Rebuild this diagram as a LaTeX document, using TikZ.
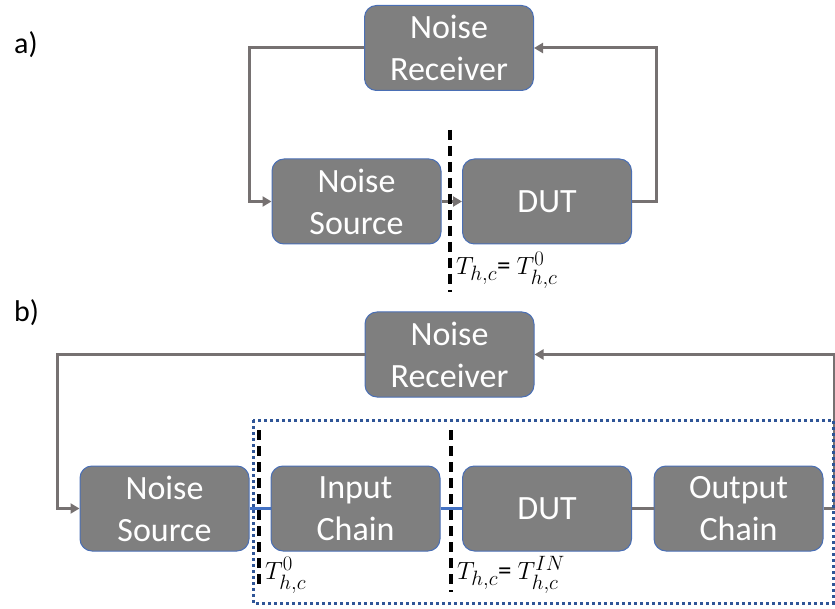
\documentclass[tikz,border=0pt]{standalone}
\usepackage{amsmath, amssymb}
\usepackage{fontspec}
\setmainfont{Carlito}
\DeclareMathSizes{27}{27}{21}{16}
\usepackage{tikz}
\usetikzlibrary{shapes, arrows.meta, positioning}
\definecolor{boxgray}{HTML}{7F7F7F}
\definecolor{boxedge}{HTML}{4A6FB5}
\definecolor{wiregray}{HTML}{767171}
\definecolor{chainblue}{HTML}{4472C4}
\definecolor{groupblue}{HTML}{2F5597}
\tikzset{x=1pt, y=-1pt,          % Work in picture pixels, y pointing down
         block/.style={          % Grey rounded blocks
           rectangle, rounded corners=12pt,
           fill=boxgray, draw=boxedge, line width=1pt,
           minimum width=169pt, minimum height=85pt,
           text=white, align=center,
           font=\fontsize{34}{42}\selectfont},
         wire/.style={           % Grey connections
           draw=wiregray, line width=3pt},
         feed/.style={           % Arrow into a block
           wire, -{Triangle[length=9pt,width=10pt]}},
         chain/.style={          % Blue connections inside the chain
           draw=chainblue, line width=2.4pt},
         cut/.style={            % Reference plane
           draw=black, line width=3.2pt, dash pattern=on 10pt off 6pt},
         group/.style={          % Dotted box round the chain
           draw=groupblue, line width=3pt, dash pattern=on 3pt off 3pt},
         tlabel/.style={anchor=west, inner sep=0pt,
           font=\fontsize{27}{32}\selectfont},
         partlabel/.style={anchor=west, inner sep=0pt,
           font=\fontsize{30}{36}\selectfont}}

\begin{document}
\begin{tikzpicture}
\useasboundingbox (0,0) rectangle (835,609);

% a) direct measurement
\node[partlabel] (pa) at (14,45) {a)};
\node[block] (recA) at (449,48) {Noise\\Receiver};
\node[block] (srcA) at (356.5,201.5) {Noise\\Source};
\node[block] (dutA) at (547,201.5) {DUT};

\coordinate (aL) at (249,48);
\coordinate (aR) at (656,48);
\draw[feed] (recA.west) -- (aL) |- (srcA.west);
\draw[feed] (dutA.east) -| (aR) -- (recA.east);
\draw[feed] (srcA) -- (dutA);

\coordinate (cutAtop) at (450,130);
\coordinate (cutAbot) at (450,292);
\draw[cut] (cutAtop) -- (cutAbot);
\node[tlabel] (tA) at (456,270) {$T_{h,c}$= $T_{h,c}^{0}$};

% b) with input and output chains
\node[partlabel] (pb) at (14,313) {b)};
\node[block] (recB) at (449.5,354.5) {Noise\\Receiver};
\node[block] (srcB) at (164.5,508.5) {Noise\\Source};
\node[block] (inpB) at (355.5,508.5) {Input\\Chain};
\node[block] (dutB) at (547,508.5) {DUT};
\node[block] (outB) at (738.5,508.5) {Output\\Chain};

\coordinate (bL) at (57,354.5);
\coordinate (bR) at (834,354.5);
\draw[feed] (recB.west) -- (bL) |- (srcB.west);
\draw[feed] (outB.east) -| (bR) -- (recB.east);
\draw[chain] (srcB) -- (inpB);
\draw[chain] (inpB) -- (dutB);
\draw[wire] (dutB) -- (outB);

\coordinate (gTL) at (253,420);
\coordinate (gBR) at (833,603);
\draw[group] (gTL) rectangle (gBR);

\coordinate (cutBtop) at (259,430);
\coordinate (cutBbot) at (259,588);
\coordinate (cutCtop) at (451,430);
\coordinate (cutCbot) at (451,592);
\draw[cut] (cutBtop) -- (cutBbot);
\draw[cut] (cutCtop) -- (cutCbot);
\node[tlabel] (tB) at (265,575) {$T_{h,c}^{0}$};
\node[tlabel] (tC) at (457,575) {$T_{h,c}$= $T_{h,c}^{IN}$};

\end{tikzpicture}
\end{document}
